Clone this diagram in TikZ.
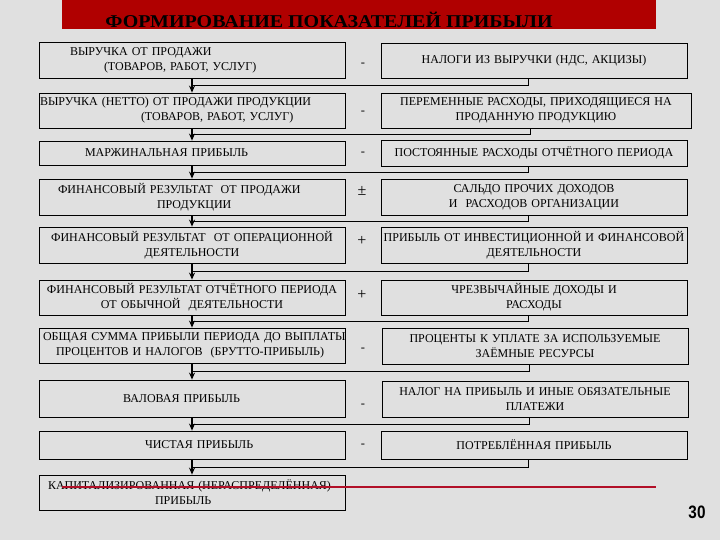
\documentclass[tikz,border=0pt]{standalone}
\usepackage{fontspec}
\setmainfont{Liberation Serif}
\newfontfamily\numfont{Liberation Sans}
\usetikzlibrary{arrows.meta}
\definecolor{bgcol}{RGB}{224,224,224}
\definecolor{barred}{RGB}{176,0,0}
\definecolor{linered}{RGB}{178,16,40}
\tikzset{
  bx/.style={draw, line width=0.8pt, inner xsep=1pt, inner ysep=0pt, text width=304pt,
    minimum height=#1, align=center, font=\fontsize{12}{15}\selectfont},
  lb/.style={bx=#1, align=left},
  sg/.style={inner sep=0pt, font=\fontsize{12.5}{12.5}\selectfont},
  pm/.style={inner sep=0pt, font=\fontsize{16}{16}\selectfont},
  dn/.style={-{Stealth[length=7pt,width=6pt]}, line width=1.2pt},
}
\begin{document}
\begin{tikzpicture}[x=1pt,y=-1pt]
\useasboundingbox (0,0) rectangle (720,540);
\fill[bgcol] (0,0) rectangle (720,540);
\fill[barred] (62,0) rectangle (656,29);
\node[anchor=base, inner sep=0pt, xscale=1.11, font=\fontsize{18}{18}\selectfont\bfseries] (title) at (329,28) {ФОРМИРОВАНИЕ ПОКАЗАТЕЛЕЙ ПРИБЫЛИ};

\node[lb=36] (L1) at (192,60) {\hspace*{30pt}ВЫРУЧКА ОТ ПРОДАЖИ\\\hspace*{64pt}(ТОВАРОВ, РАБОТ, УСЛУГ)};
\node[lb=35] (L2) at (192,110.5) {ВЫРУЧКА (НЕТТО) ОТ ПРОДАЖИ ПРОДУКЦИИ\\\hspace*{101pt}(ТОВАРОВ, РАБОТ, УСЛУГ)};
\node[lb=24] (L3) at (192,153) {\hspace*{45pt}МАРЖИНАЛЬНАЯ ПРИБЫЛЬ};
\node[lb=36] (L4) at (192,197) {\hspace*{18pt}ФИНАНСОВЫЙ РЕЗУЛЬТАТ\ \ ОТ ПРОДАЖИ\\\hspace*{117pt}ПРОДУКЦИИ};
\node[bx=36] (L5) at (192,245) {\mbox{ФИНАНСОВЫЙ РЕЗУЛЬТАТ\ \ ОТ ОПЕРАЦИОННОЙ}\\ДЕЯТЕЛЬНОСТИ};
\node[bx=35] (L6) at (192,297.5) {\mbox{ФИНАНСОВЫЙ РЕЗУЛЬТАТ ОТЧЁТНОГО ПЕРИОДА}\\ОТ ОБЫЧНОЙ\ \ ДЕЯТЕЛЬНОСТИ};
\node[lb=35] (L7) at (192,345.5) {\hspace*{3pt}\mbox{ОБЩАЯ СУММА ПРИБЫЛИ ПЕРИОДА ДО ВЫПЛАТЫ}\\\hspace*{16pt}ПРОЦЕНТОВ И НАЛОГОВ\ \ (БРУТТО-ПРИБЫЛЬ)};
\node[lb=37] (L8) at (192,398.5) {\hspace*{83pt}ВАЛОВАЯ ПРИБЫЛЬ};
\node[lb=28] (L9) at (192,445) {\hspace*{105pt}ЧИСТАЯ ПРИБЫЛЬ};
\node[lb=35] (L10) at (192,492.5) {\hspace*{8pt}\mbox{КАПИТАЛИЗИРОВАННАЯ (НЕРАСПРЕДЕЛЁННАЯ)}\\\hspace*{115pt}ПРИБЫЛЬ};

\node[bx=35] (R1) at (534,60.5) {НАЛОГИ ИЗ ВЫРУЧКИ (НДС, АКЦИЗЫ)};
\node[bx=35, text width=308pt] (R2) at (536,110.5) {ПЕРЕМЕННЫЕ РАСХОДЫ, ПРИХОДЯЩИЕСЯ НА\\ПРОДАННУЮ ПРОДУКЦИЮ};
\node[bx=26] (R3) at (534,153) {ПОСТОЯННЫЕ РАСХОДЫ ОТЧЁТНОГО ПЕРИОДА};
\node[bx=36] (R4) at (534,197) {САЛЬДО ПРОЧИХ ДОХОДОВ\\И\ \ РАСХОДОВ ОРГАНИЗАЦИИ};
\node[bx=36] (R5) at (534,245) {\mbox{ПРИБЫЛЬ ОТ ИНВЕСТИЦИОННОЙ И ФИНАНСОВОЙ}\\ДЕЯТЕЛЬНОСТИ};
\node[bx=35] (R6) at (534,297.5) {ЧРЕЗВЫЧАЙНЫЕ ДОХОДЫ И\\РАСХОДЫ};
\node[bx=36] (R7) at (535,346) {ПРОЦЕНТЫ К УПЛАТЕ ЗА ИСПОЛЬЗУЕМЫЕ\\ЗАЁМНЫЕ РЕСУРСЫ};
\node[bx=36] (R8) at (535,399) {НАЛОГ НА ПРИБЫЛЬ И ИНЫЕ ОБЯЗАТЕЛЬНЫЕ\\ПЛАТЕЖИ};
\node[bx=28] (R9) at (534,445) {ПОТРЕБЛЁННАЯ ПРИБЫЛЬ};

\node[sg] (s1) at (363,65) {-};
\node[sg] (s2) at (363,113) {-};
\node[sg] (s3) at (363,154) {-};
\node[pm] (s4) at (362,191) {±};
\node[pm] (s5) at (362,241) {+};
\node[pm] (s6) at (362,295) {+};
\node[sg] (s7) at (363,350) {-};
\node[sg] (s8) at (363,406) {-};
\node[sg] (s9) at (363,446) {-};

\foreach \i/\j in {1/2,2/3,3/4,4/5,5/6,6/7,7/8,8/9,9/10}{
  \path (L\i.south) -- (L\j.north) coordinate[pos=.5] (m\i);
  \draw[dn] (L\i.south) -- (L\j.north);
  \draw[line width=0.8pt] ([xshift=-6pt]R\i.south) |- (m\i);
}

\draw[linered, line width=2pt] (62,487) -- (656,487);
\node[anchor=base, inner sep=0pt, xscale=0.85, font=\numfont\bfseries\fontsize{18}{18}\selectfont] (pg) at (697,518) {30};
\end{tikzpicture}
\end{document}
